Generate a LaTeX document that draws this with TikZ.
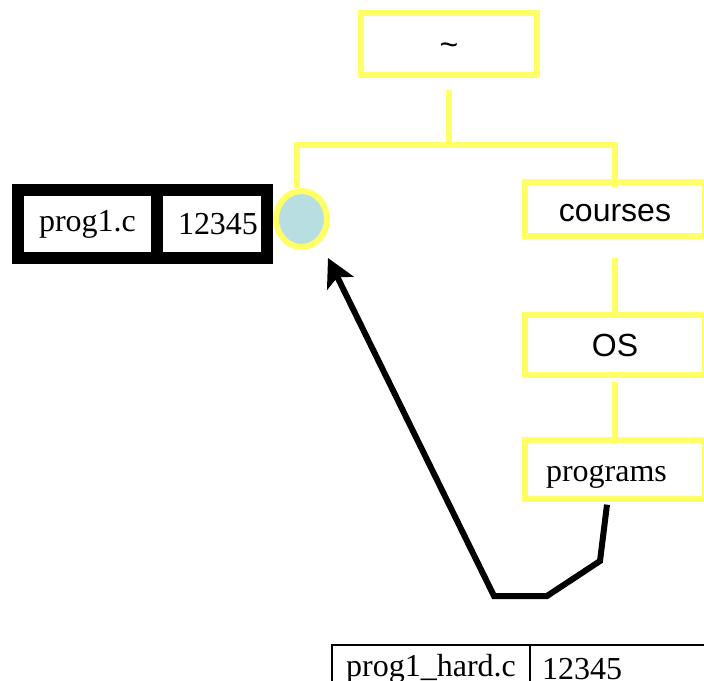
\documentclass[tikz,border=0pt]{standalone}
\usepackage{fontspec}
\setmainfont{Liberation Serif}
\setsansfont{Liberation Sans}
\usetikzlibrary{arrows.meta}
\usetikzlibrary{positioning,shapes.geometric}

\definecolor{diryellow}{RGB}{255,255,102}
\definecolor{inodeblue}{RGB}{185,222,226}

\tikzset{
  dirbox/.style={draw=diryellow, line width=4.5pt, minimum width=135pt,
    minimum height=44.25pt, inner sep=0pt, text height=18pt, text depth=0pt,
    font=\sffamily\fontsize{24}{28}\selectfont},
  dirline/.style={draw=diryellow, line width=4.5pt},
  entrycell/.style={draw=black, line width=9pt, inner sep=0pt,
    minimum height=51pt, font=\fontsize{24}{28}\selectfont},
  linkcell/.style={draw=black, line width=1.5pt, inner sep=0pt,
    minimum height=36pt, font=\fontsize{24}{28}\selectfont},
  link/.style={black, line width=4.5pt, -{Stealth[length=21pt,width=22pt,inset=5pt]}}
}

\begin{document}
\begin{tikzpicture}[x=0.75pt,y=-0.75pt]
      \useasboundingbox (0,0) rectangle (704,681);
      \clip (0,0) rectangle (704,681);

      % directories
      \node[dirbox, minimum width=132pt, minimum height=46.5pt] (root) at (449,44) {\textasciitilde};
      \node[dirbox, minimum height=40.5pt] (courses) at (615,209.5) {courses};
      \node[dirbox] (os) at (615,345) {OS};
      \node[dirbox, font=\fontsize{24}{28}\selectfont, inner xsep=15.75pt,
        text width=103.5pt, align=left] (programs) at (615,469.5) {programs};

      % directory entry and its inode
      \node[entrycell, minimum width=104.25pt] (name) at (87.5,224) {prog1.c};
      \node[entrycell, minimum width=82.5pt] (num) at (212,224) {\hspace{9pt}12345};
      \node[ellipse, draw=diryellow, fill=inodeblue, line width=4.5pt,
        minimum width=38.25pt, minimum height=42pt, inner sep=0pt] (inode) at (301.5,219) {};

      % hard link entry
      \node[linkcell, minimum width=148.5pt] (hardname) at (431,669) {prog1\_hard.c};
      \node[linkcell, inner xsep=9pt, text width=124.5pt, align=left] (hardnum) at (625,669) {12345};

      % tree lines
      \coordinate (fork) at (448,145);
      \draw[dirline, shorten <=9pt] (root.south) -- (root.south |- fork);
      \draw[dirline, shorten >=-6pt] ([xshift=-3.4pt]inode.north) |- (fork) -| (courses.north);
      \draw[dirline, shorten <=14pt] (courses.south) -- (os.north);
      \draw[dirline, shorten <=3pt] (os.south) -- (programs.north);

      % link to the inode
      \coordinate (b1) at (600,561);
      \coordinate (b2) at (547,596);
      \coordinate (b3) at (494,596);
      \coordinate (tip) at (328,258);
      \draw[link] ([xshift=-6pt,yshift=-2pt]programs.south) -- (b1) -- (b2) -- (b3) -- (tip);
    \end{tikzpicture}
\end{document}
